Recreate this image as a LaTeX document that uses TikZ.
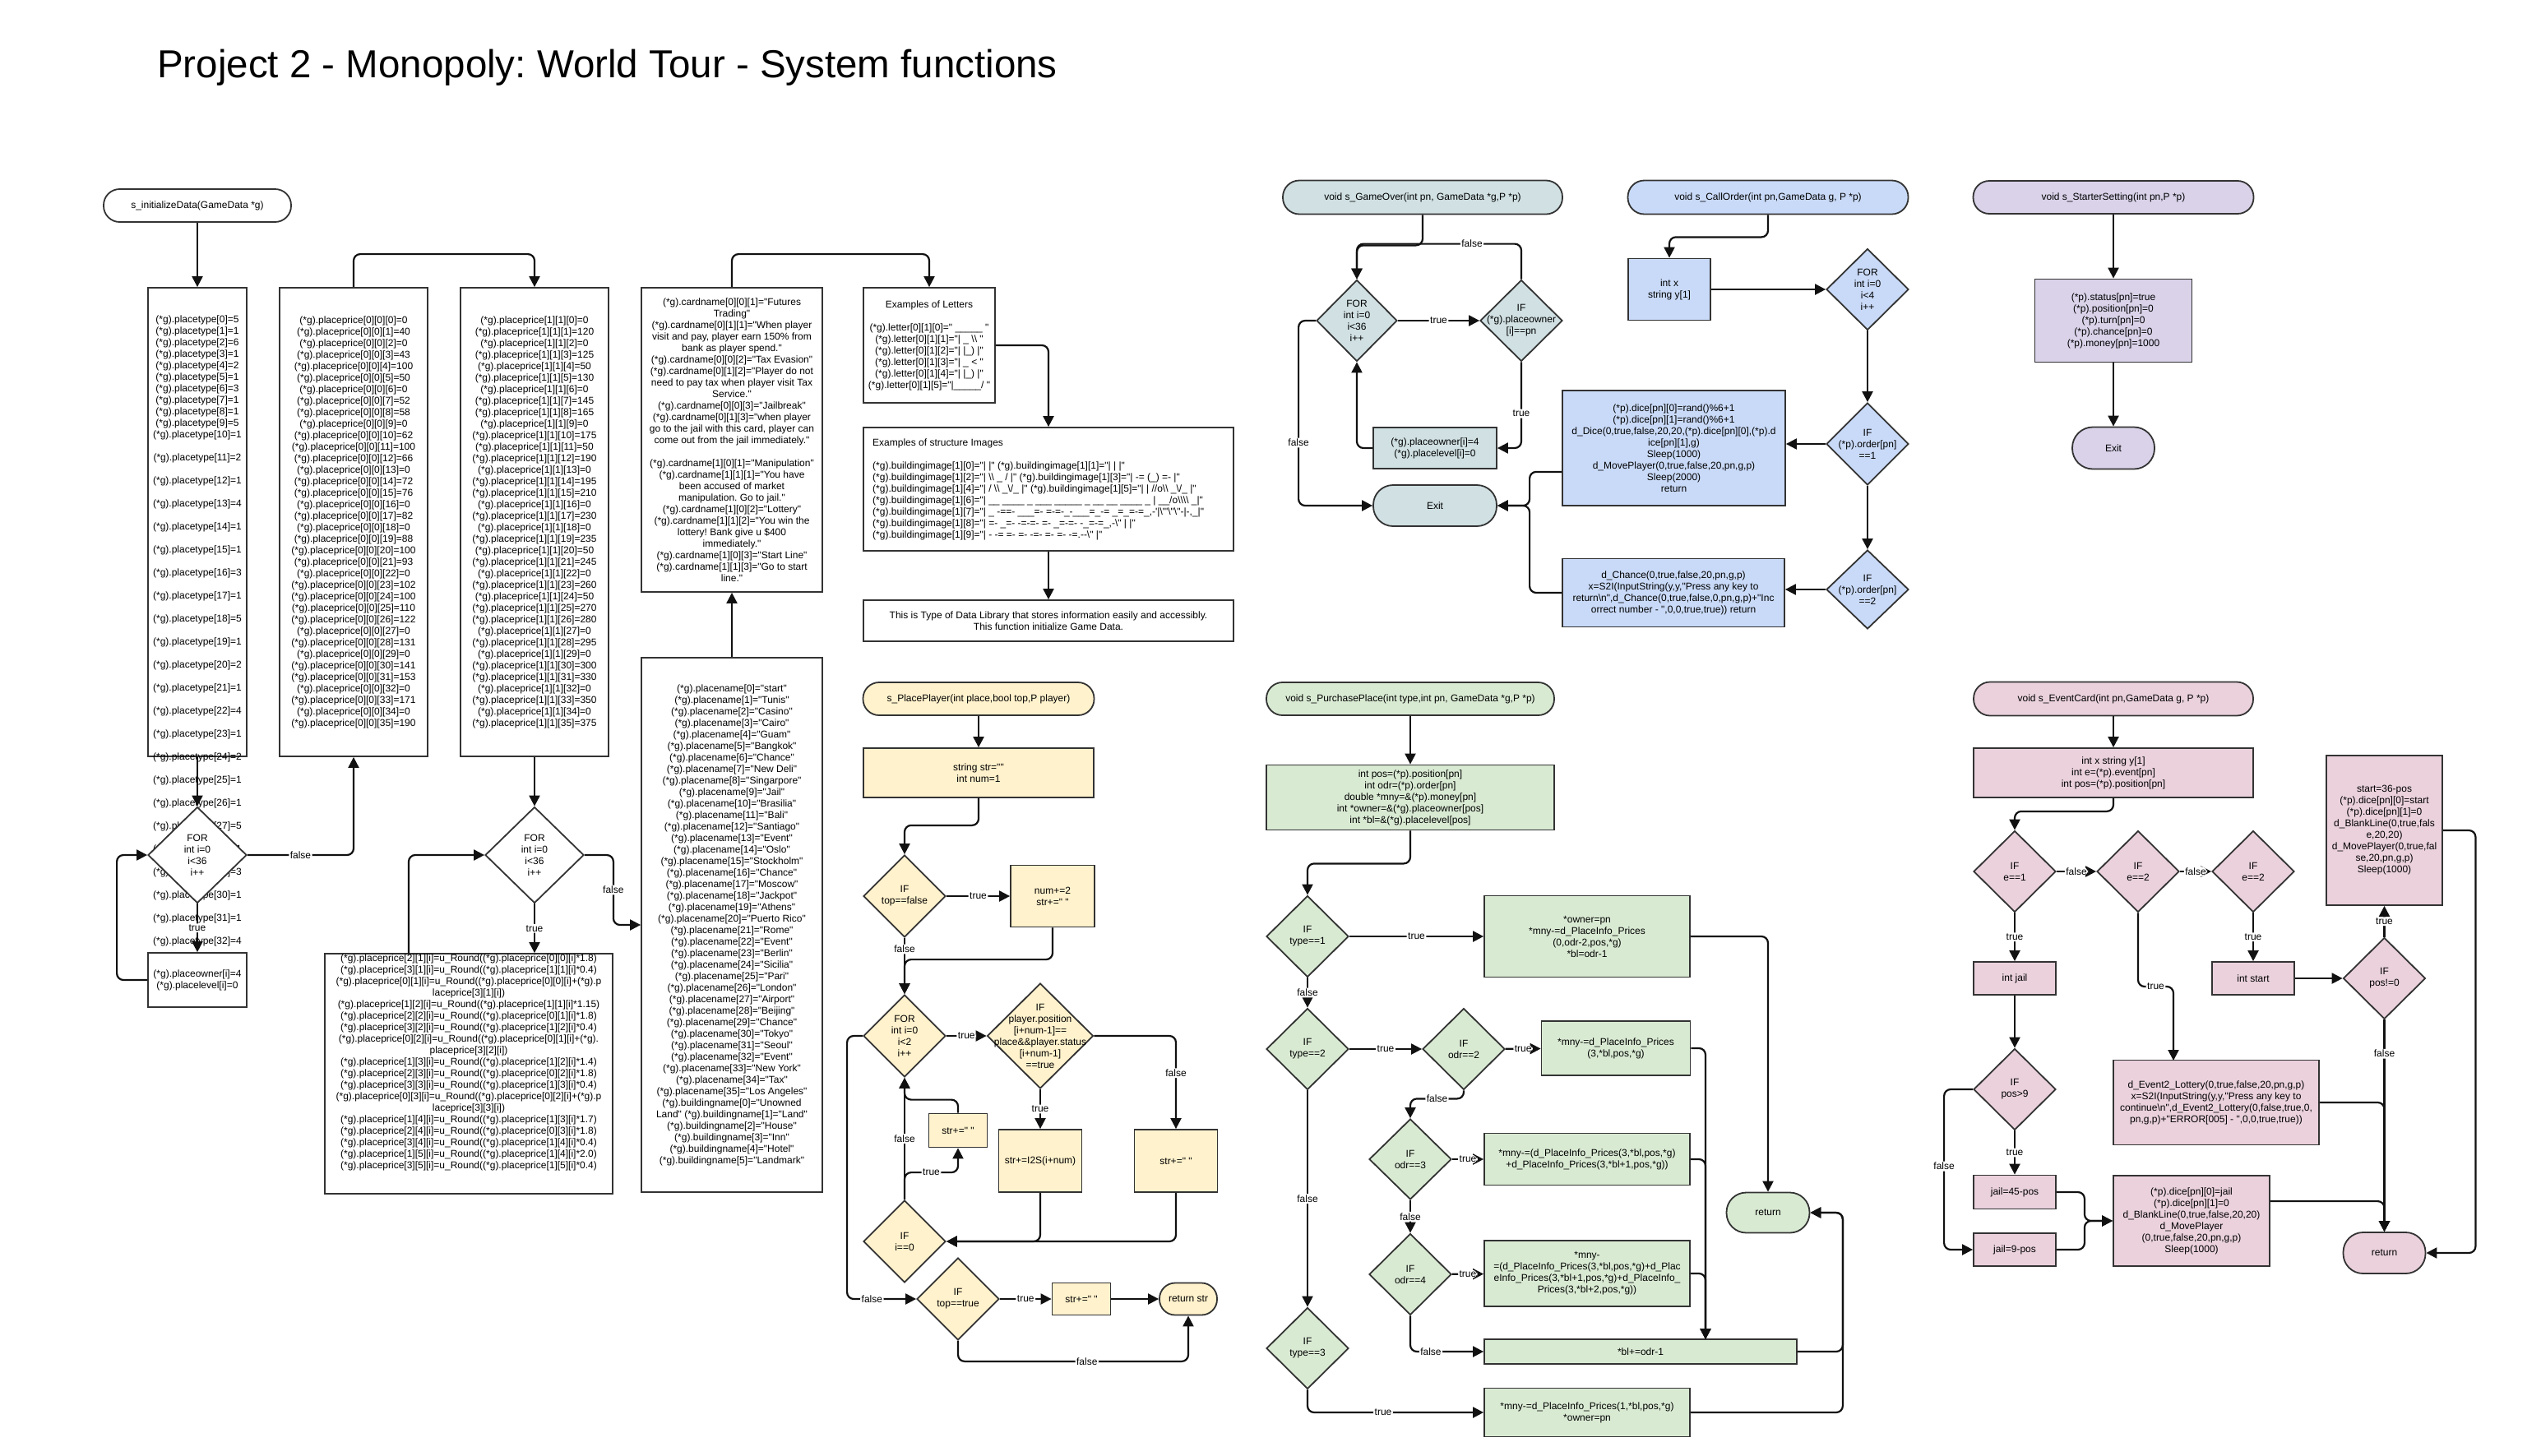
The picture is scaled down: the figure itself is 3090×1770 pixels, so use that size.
\documentclass[tikz,border=0pt]{standalone}
\usepackage{fontspec}
\setmainfont{Liberation Sans}[Ligatures=TeXOff]
\usetikzlibrary{shapes.geometric,shapes.misc,arrows.meta,calc}
\definecolor{bord}{HTML}{333333}
\definecolor{lnc}{HTML}{111111}
\definecolor{cyg}{HTML}{D0E0E3}
\definecolor{blu}{HTML}{C9DAF8}
\definecolor{pur}{HTML}{D9D2E9}
\definecolor{yel}{HTML}{FFF2CC}
\definecolor{grn}{HTML}{D9EAD3}
\definecolor{pnk}{HTML}{EAD1DC}
\newcommand\fs{\fontsize{12}{14}\selectfont}
\newcommand\bsl{\textbackslash}
\frenchspacing
\begin{document}
\begin{tikzpicture}[x=1pt,y=-1pt,
  bx/.style={draw=bord, line width=1.8pt, inner sep=1pt, align=center, font=\fs},
  term/.style={bx, rectangle, rounded corners=#1},
  proc/.style={bx, rectangle},
  dia/.style={bx, diamond, inner sep=0pt},
  txt/.style={inner sep=0pt, align=center, font=\fs},
  arr/.style={draw=lnc, line width=2.2pt, rounded corners=8pt, -{Triangle[length=13pt,width=13pt]}},
  lab/.style={fill=white, inner sep=1.5pt, font=\fs}]
\fill[white] (0,0) rectangle (3090,1770);
\useasboundingbox (0,0) rectangle (3090,1770);
\node[anchor=west, inner sep=0pt, font=\fontsize{47.5}{56}\selectfont] (title) at (191,82) {Project 2 - Monopoly: World Tour - System functions};

% ================= Section 1 : s_initializeData =================
\node[term=19.5pt, fill=white, minimum width=228pt, minimum height=40pt] (t1) at (240,250) {s\_initializeData(GameData *g)};
\node[proc, fill=white, minimum width=120pt, minimum height=570pt] (b1) at (240,635) {};
\node[txt] (b1t) at (240,767) {(*g).placetype[0]=5\\(*g).placetype[1]=1\\(*g).placetype[2]=6\\(*g).placetype[3]=1\\(*g).placetype[4]=2\\(*g).placetype[5]=1\\(*g).placetype[6]=3\\(*g).placetype[7]=1\\(*g).placetype[8]=1\\(*g).placetype[9]=5\\(*g).placetype[10]=1\\[14pt](*g).placetype[11]=2\\[14pt](*g).placetype[12]=1\\[14pt](*g).placetype[13]=4\\[14pt](*g).placetype[14]=1\\[14pt](*g).placetype[15]=1\\[14pt](*g).placetype[16]=3\\[14pt](*g).placetype[17]=1\\[14pt](*g).placetype[18]=5\\[14pt](*g).placetype[19]=1\\[14pt](*g).placetype[20]=2\\[14pt](*g).placetype[21]=1\\[14pt](*g).placetype[22]=4\\[14pt](*g).placetype[23]=1\\[14pt](*g).placetype[24]=2\\[14pt](*g).placetype[25]=1\\[14pt](*g).placetype[26]=1\\[14pt](*g).placetype[27]=5\\[14pt](*g).placetype[28]=1\\[14pt](*g).placetype[29]=3\\[14pt](*g).placetype[30]=1\\[14pt](*g).placetype[31]=1\\[14pt](*g).placetype[32]=4};
\node[proc, fill=white, minimum width=180pt, minimum height=570pt] (b2) at (430,635) {(*g).placeprice[0][0][0]=0\\(*g).placeprice[0][0][1]=40\\(*g).placeprice[0][0][2]=0\\(*g).placeprice[0][0][3]=43\\(*g).placeprice[0][0][4]=100\\(*g).placeprice[0][0][5]=50\\(*g).placeprice[0][0][6]=0\\(*g).placeprice[0][0][7]=52\\(*g).placeprice[0][0][8]=58\\(*g).placeprice[0][0][9]=0\\(*g).placeprice[0][0][10]=62\\(*g).placeprice[0][0][11]=100\\(*g).placeprice[0][0][12]=66\\(*g).placeprice[0][0][13]=0\\(*g).placeprice[0][0][14]=72\\(*g).placeprice[0][0][15]=76\\(*g).placeprice[0][0][16]=0\\(*g).placeprice[0][0][17]=82\\(*g).placeprice[0][0][18]=0\\(*g).placeprice[0][0][19]=88\\(*g).placeprice[0][0][20]=100\\(*g).placeprice[0][0][21]=93\\(*g).placeprice[0][0][22]=0\\(*g).placeprice[0][0][23]=102\\(*g).placeprice[0][0][24]=100\\(*g).placeprice[0][0][25]=110\\(*g).placeprice[0][0][26]=122\\(*g).placeprice[0][0][27]=0\\(*g).placeprice[0][0][28]=131\\(*g).placeprice[0][0][29]=0\\(*g).placeprice[0][0][30]=141\\(*g).placeprice[0][0][31]=153\\(*g).placeprice[0][0][32]=0\\(*g).placeprice[0][0][33]=171\\(*g).placeprice[0][0][34]=0\\(*g).placeprice[0][0][35]=190};
\node[proc, fill=white, minimum width=180pt, minimum height=570pt] (b3) at (650,635) {(*g).placeprice[1][1][0]=0\\(*g).placeprice[1][1][1]=120\\(*g).placeprice[1][1][2]=0\\(*g).placeprice[1][1][3]=125\\(*g).placeprice[1][1][4]=50\\(*g).placeprice[1][1][5]=130\\(*g).placeprice[1][1][6]=0\\(*g).placeprice[1][1][7]=145\\(*g).placeprice[1][1][8]=165\\(*g).placeprice[1][1][9]=0\\(*g).placeprice[1][1][10]=175\\(*g).placeprice[1][1][11]=50\\(*g).placeprice[1][1][12]=190\\(*g).placeprice[1][1][13]=0\\(*g).placeprice[1][1][14]=195\\(*g).placeprice[1][1][15]=210\\(*g).placeprice[1][1][16]=0\\(*g).placeprice[1][1][17]=230\\(*g).placeprice[1][1][18]=0\\(*g).placeprice[1][1][19]=235\\(*g).placeprice[1][1][20]=50\\(*g).placeprice[1][1][21]=245\\(*g).placeprice[1][1][22]=0\\(*g).placeprice[1][1][23]=260\\(*g).placeprice[1][1][24]=50\\(*g).placeprice[1][1][25]=270\\(*g).placeprice[1][1][26]=280\\(*g).placeprice[1][1][27]=0\\(*g).placeprice[1][1][28]=295\\(*g).placeprice[1][1][29]=0\\(*g).placeprice[1][1][30]=300\\(*g).placeprice[1][1][31]=330\\(*g).placeprice[1][1][32]=0\\(*g).placeprice[1][1][33]=350\\(*g).placeprice[1][1][34]=0\\(*g).placeprice[1][1][35]=375};
\node[dia, fill=white, minimum width=120pt, minimum height=117pt] (d1) at (240,1040) {};
\node[txt] (d1t) at (d1) {FOR\\int i=0\\i<36\\i++};
\node[proc, fill=white, minimum width=120pt, minimum height=66pt] (b4) at (240,1192) {(*g).placeowner[i]=4\\(*g).placelevel[i]=0};
\node[dia, fill=white, minimum width=120pt, minimum height=117pt] (d2) at (650,1040) {};
\node[txt] (d2t) at (d2) {FOR\\int i=0\\i<36\\i++};
\node[proc, fill=white, minimum width=350pt, minimum height=292pt] (b5) at (570,1306) {};
\node[txt] (b5t) at (570,1292) {(*g).placeprice[2][1][i]=u\_Round((*g).placeprice[0][0][i]*1.8)\\(*g).placeprice[3][1][i]=u\_Round((*g).placeprice[1][1][i]*0.4)\\(*g).placeprice[0][1][i]=u\_Round((*g).placeprice[0][0][i]+(*g).p\\laceprice[3][1][i])\\(*g).placeprice[1][2][i]=u\_Round((*g).placeprice[1][1][i]*1.15)\\(*g).placeprice[2][2][i]=u\_Round((*g).placeprice[0][1][i]*1.8)\\(*g).placeprice[3][2][i]=u\_Round((*g).placeprice[1][2][i]*0.4)\\(*g).placeprice[0][2][i]=u\_Round((*g).placeprice[0][1][i]+(*g).\\placeprice[3][2][i])\\(*g).placeprice[1][3][i]=u\_Round((*g).placeprice[1][2][i]*1.4)\\(*g).placeprice[2][3][i]=u\_Round((*g).placeprice[0][2][i]*1.8)\\(*g).placeprice[3][3][i]=u\_Round((*g).placeprice[1][3][i]*0.4)\\(*g).placeprice[0][3][i]=u\_Round((*g).placeprice[0][2][i]+(*g).p\\laceprice[3][3][i])\\(*g).placeprice[1][4][i]=u\_Round((*g).placeprice[1][3][i]*1.7)\\(*g).placeprice[2][4][i]=u\_Round((*g).placeprice[0][3][i]*1.8)\\(*g).placeprice[3][4][i]=u\_Round((*g).placeprice[1][4][i]*0.4)\\(*g).placeprice[1][5][i]=u\_Round((*g).placeprice[1][4][i]*2.0)\\(*g).placeprice[3][5][i]=u\_Round((*g).placeprice[1][5][i]*0.4)};
\node[proc, fill=white, minimum width=220pt, minimum height=370pt] (b6) at (890,535) {(*g).cardname[0][0][1]="Futures\\Trading"\\(*g).cardname[0][1][1]="When player\\visit and pay, player earn 150\% from\\bank as player spend."\\(*g).cardname[0][0][2]="Tax Evasion"\\(*g).cardname[0][1][2]="Player do not\\need to pay tax when player visit Tax\\Service."\\(*g).cardname[0][0][3]="Jailbreak"\\(*g).cardname[0][1][3]="when player\\go to the jail with this card, player can\\come out from the jail immediately."\\[14pt](*g).cardname[1][0][1]="Manipulation"\\(*g).cardname[1][1][1]="You have\\been accused of market\\manipulation. Go to jail."\\(*g).cardname[1][0][2]="Lottery"\\(*g).cardname[1][1][2]="You win the\\lottery! Bank give u \$400\\immediately."\\(*g).cardname[1][0][3]="Start Line"\\(*g).cardname[1][1][3]="Go to start\\line."};
\node[proc, fill=white, minimum width=220pt, minimum height=650pt] (b7) at (890,1125) {(*g).placename[0]="start"\\(*g).placename[1]="Tunis"\\(*g).placename[2]="Casino"\\(*g).placename[3]="Cairo"\\(*g).placename[4]="Guam"\\(*g).placename[5]="Bangkok"\\(*g).placename[6]="Chance"\\(*g).placename[7]="New Deli"\\(*g).placename[8]="Singarpore"\\(*g).placename[9]="Jail"\\(*g).placename[10]="Brasilia"\\(*g).placename[11]="Bali"\\(*g).placename[12]="Santiago"\\(*g).placename[13]="Event"\\(*g).placename[14]="Oslo"\\(*g).placename[15]="Stockholm"\\(*g).placename[16]="Chance"\\(*g).placename[17]="Moscow"\\(*g).placename[18]="Jackpot"\\(*g).placename[19]="Athens"\\(*g).placename[20]="Puerto Rico"\\(*g).placename[21]="Rome"\\(*g).placename[22]="Event"\\(*g).placename[23]="Berlin"\\(*g).placename[24]="Sicilia"\\(*g).placename[25]="Pari"\\(*g).placename[26]="London"\\(*g).placename[27]="Airport"\\(*g).placename[28]="Beijing"\\(*g).placename[29]="Chance"\\(*g).placename[30]="Tokyo"\\(*g).placename[31]="Seoul"\\(*g).placename[32]="Event"\\(*g).placename[33]="New York"\\(*g).placename[34]="Tax"\\(*g).placename[35]="Los Angeles"\\(*g).buildingname[0]="Unowned\\Land" (*g).buildingname[1]="Land"\\(*g).buildingname[2]="House"\\(*g).buildingname[3]="Inn"\\(*g).buildingname[4]="Hotel"\\(*g).buildingname[5]="Landmark"};
\node[proc, fill=white, minimum width=160pt, minimum height=140pt] (b8) at (1130,420) {Examples of Letters\\[14pt](*g).letter[0][1][0]=" \_\_\_\_\_ "\\(*g).letter[0][1][1]="| \_ \bsl\bsl{} "\\(*g).letter[0][1][2]="| |\_) |"\\(*g).letter[0][1][3]="| \_ < "\\(*g).letter[0][1][4]="| |\_) |"\\(*g).letter[0][1][5]="|\_\_\_\_\_/ "};
\node[proc, fill=white, minimum width=450pt, minimum height=150pt] (b9) at (1275,595) {};
\node[txt, align=left, anchor=west] (b9t) at (1061,595) {Examples of structure Images\\[14pt](*g).buildingimage[1][0]="| |" (*g).buildingimage[1][1]="| | |"\\(*g).buildingimage[1][2]="| \bsl\bsl{} \_ / |" (*g).buildingimage[1][3]="| -= (\_) =- |"\\(*g).buildingimage[1][4]="| / \bsl\bsl{} \_\bsl/\_ |" (*g).buildingimage[1][5]="| | //o\bsl\bsl{} \_\bsl/\_ |"\\(*g).buildingimage[1][6]="| \_\_ \_\_\_\_ \_ \_\_\_ \_\_\_\_\_ \_ \_\_ \_\_ \_\_\_\_ \_ | \_\_/o\bsl\bsl\bsl\bsl{} \_|"\\(*g).buildingimage[1][7]="| \_ -==- \_\_\_=- =-=-\_-\_\_\_=\_-= \_=\_=-=\_,-'|\bsl"'\bsl"\bsl"-|-,\_|"\\(*g).buildingimage[1][8]="| =- \_=- -=-=- =- \_=-=- -\_=-=\_,-\bsl" | |"\\(*g).buildingimage[1][9]="| - -= =- =- -=- =- =- -=.--\bsl" |"};
\node[proc, fill=white, minimum width=450pt, minimum height=50pt] (b10) at (1275,755) {This is Type of Data Library that stores information easily and accessibly.\\This function initialize Game Data.};

\draw[arr] (t1) -- (b1);
\draw[arr] (b1) -- (d1);
\draw[arr] (d1.east) -- node[lab]{false} (d1.east -| b2.south) -- (b2.south);
\draw[arr] (d1) -- node[lab]{true} (b4);
\draw[arr] (b4.west) -- ++(-37,0) |- (d1.west);
\draw[arr] (b2.north) -- ++(0,-40) -| (b3.north);
\draw[arr] (b3) -- (d2);
\draw[arr] (d2.south) -- node[lab]{true} (d2.south |- b5.north);
\coordinate (b5a) at (497,1160);
\draw[arr] (b5a) |- (d2.west);
\draw[arr] (d2.east) -- ++(35,0) -- node[lab]{false} ++(0,85) -- (b7.west);
\draw[arr] (b7) -- (b6);
\draw[arr] (b6.north) -- ++(0,-40) -| (b8.north);
\draw[arr] (b8.east) -| (b9.north);
\draw[arr] (b9) -- (b10);

% ================= s_PlacePlayer =================
\node[term=19.5pt, fill=yel, minimum width=281pt, minimum height=40pt] (p0) at (1190,850) {s\_PlacePlayer(int place,bool top,P player)};
\node[proc, fill=yel, minimum width=280pt, minimum height=60pt] (p1) at (1190,940) {string str=""\\int num=1};
\node[dia, fill=yel, minimum width=100pt, minimum height=100pt] (p2) at (1100,1090) {};
\node[txt] (p2t) at (p2) {IF\\top==false};
\node[proc, fill=yel, minimum width=102pt, minimum height=75pt] (p3) at (1280,1090) {num+=2\\str+=" "};
\node[dia, fill=yel, minimum width=100pt, minimum height=100pt] (p4) at (1100,1260) {};
\node[txt] (p4t) at (p4) {FOR\\int i=0\\i<2\\i++};
\node[dia, fill=yel, minimum width=129pt, minimum height=128pt] (p5) at (1265,1260) {};
\node[txt] (p5t) at (p5) {IF\\player.position\\{}[i+num-1]==\\place\&\&player.status\\{}[i+num-1]\\==true};
\node[proc, fill=yel, minimum width=101pt, minimum height=76pt] (p6) at (1265,1412) {str+=I2S(i+num)};
\node[proc, fill=yel, minimum width=101pt, minimum height=76pt] (p7) at (1430,1412) {str+=" "};
\node[dia, fill=yel, minimum width=100pt, minimum height=100pt] (p8) at (1100,1510) {};
\node[txt] (p8t) at (p8) {IF\\i==0};
\node[proc, fill=yel, minimum width=71pt, minimum height=41pt] (p9) at (1165,1375) {str+=" "};
\node[dia, fill=yel, minimum width=100pt, minimum height=100pt] (p10) at (1165,1580) {};
\node[txt] (p10t) at (p10) {IF\\top==true};
\node[proc, fill=yel, minimum width=71pt, minimum height=39pt] (p11) at (1315,1580) {str+=" "};
\node[term=19pt, fill=yel, minimum width=70pt, minimum height=39pt] (p12) at (1445,1580) {return str};

\draw[arr] (p0) -- (p1);
\draw[arr] (p1.south) -- ++(0,33) -| (p2.north);
\draw[arr] (p2) -- node[lab]{true} (p3);
\draw[arr] (p2) -- node[lab, pos=0.2]{false} (p4);
\draw[arr] (p3.south) |- ($(p4.north)+(0,-42)$) -- (p4.north);
\draw[arr] (p4) -- node[lab]{true} (p5);
\draw[arr] (p5) -- node[lab]{true} (p6);
\draw[arr] (p5.east) -| node[lab, pos=0.7]{false} (p7.north);
\draw[arr] (p6.south) |- (p8.east);
\draw[arr] (p7.south) |- (p8.east);
\draw[arr] (p8) -- node[lab]{false} (p4);
\draw[arr] (p8.north) -- ++(0,-33) -- node[lab]{true} ++(65,0) -- (p9.south);
\draw[arr] (p9.north) -- ++(0,-16) -| (p4.south);
\draw[arr] (p4.west) -- ++(-19,0) |- node[lab, pos=0.68]{false} (p10.west);
\draw[arr] (p10) -- node[lab]{true} (p11);
\draw[arr] (p11) -- (p12);
\draw[arr] (p10.south) -- ++(0,25) -| node[lab, pos=0.28]{false} (p12.south);

% ================= s_GameOver =================
\node[term=20pt, fill=cyg, minimum width=340pt, minimum height=41pt] (g0) at (1730,240) {void s\_GameOver(int pn, GameData *g,P *p)};
\node[dia, fill=cyg, minimum width=98pt, minimum height=99pt] (g1) at (1650,390) {};
\node[txt] (g1t) at (g1) {FOR\\int i=0\\i<36\\i++};
\node[dia, fill=cyg, minimum width=100pt, minimum height=99pt] (g2) at (1850,390) {};
\node[txt] (g2t) at (g2) {IF\\(*g).placeowner\\{}[i]==pn};
\node[proc, fill=cyg, minimum width=150pt, minimum height=50pt] (g3) at (1745,545) {(*g).placeowner[i]=4\\(*g).placelevel[i]=0};
\node[term=24pt, fill=cyg, minimum width=150pt, minimum height=50pt] (g4) at (1745,615) {Exit};

\draw[arr] (g0.south) -- ++(0,37) -| (g1.north);
\draw[arr] (g2.north) |- node[lab, pos=0.65]{false} ($(g1.north)+(0,-43)$) -- (g1.north);
\draw[arr] (g1) -- node[lab]{true} (g2);
\draw[arr] (g2.south) |- node[lab, pos=0.3]{true} (g3.east);
\draw[arr] (g3.west) -| (g1.south);
\draw[arr] (g1.west) -- ++(-21,0) |- node[lab, pos=0.33]{false} (g4.west);

% ================= s_CallOrder =================
\node[term=20pt, fill=blu, minimum width=341pt, minimum height=41pt] (c0) at (2150,240) {void s\_CallOrder(int pn,GameData g, P *p)};
\node[proc, fill=blu, minimum width=100pt, minimum height=75pt] (c1) at (2030,352) {int x\\string y[1]};
\node[dia, fill=blu, minimum width=100pt, minimum height=99pt] (c2) at (2271,352) {};
\node[txt] (c2t) at (c2) {FOR\\int i=0\\i<4\\i++};
\node[dia, fill=blu, minimum width=100pt, minimum height=100pt] (c3) at (2271,540) {};
\node[txt] (c3t) at (c3) {IF\\(*p).order[pn]\\==1};
\node[proc, fill=blu, minimum width=271pt, minimum height=140pt] (c4) at (2035.5,545) {(*p).dice[pn][0]=rand()\%6+1\\(*p).dice[pn][1]=rand()\%6+1\\d\_Dice(0,true,false,20,20,(*p).dice[pn][0],(*p).d\\ice[pn][1],g)\\Sleep(1000)\\d\_MovePlayer(0,true,false,20,pn,g,p)\\Sleep(2000)\\return};
\node[dia, fill=blu, minimum width=100pt, minimum height=96pt] (c5) at (2271,717) {};
\node[txt] (c5t) at (c5) {IF\\(*p).order[pn]\\==2};
\node[proc, fill=blu, minimum width=270pt, minimum height=83pt] (c6) at (2035,721) {d\_Chance(0,true,false,20,pn,g,p)\\x=S2I(InputString(y,y,"Press any key to\\return\bsl n",d\_Chance(0,true,false,0,pn,g,p)+"Inc\\orrect number - ",0,0,true,true)) return};

\draw[arr] (c0.south) -- ++(0,27) -| (c1.north);
\draw[arr] (c1) -- (c2);
\draw[arr] (c2) -- (c3);
\draw[arr] (c3.west) -- (c3.west -| c4.east);
\draw[arr] (c3) -- (c5);
\draw[arr] (c5.west) -- (c5.west -| c6.east);
\coordinate (c4o) at ($(c4.south west)+(0,-42)$);
\draw[arr] (c4o) -- ++(-39,0) |- (g4.east);
\draw[arr] (c6.west) -- ++(-39,0) |- (g4.east);

% ================= s_StarterSetting =================
\node[term=19.5pt, fill=pur, minimum width=341pt, minimum height=40pt] (s0) at (2570,240) {void s\_StarterSetting(int pn,P *p)};
\node[proc, fill=pur, minimum width=191pt, minimum height=101pt] (s1) at (2570,390) {(*p).status[pn]=true\\(*p).position[pn]=0\\(*p).turn[pn]=0\\(*p).chance[pn]=0\\(*p).money[pn]=1000};
\node[term=25pt, fill=pur, minimum width=100pt, minimum height=51pt] (s2) at (2570,545) {Exit};
\draw[arr] (s0) -- (s1);
\draw[arr] (s1) -- (s2);

% ================= s_PurchasePlace =================
\node[term=19.5pt, fill=grn, minimum width=350pt, minimum height=40pt] (u0) at (1715,850) {void s\_PurchasePlace(int type,int pn, GameData *g,P *p)};
\node[proc, fill=grn, minimum width=350pt, minimum height=79pt] (u1) at (1715,970) {int pos=(*p).position[pn]\\int odr=(*p).order[pn]\\double *mny=\&(*p).money[pn]\\int *owner=\&(*g).placeowner[pos]\\int *bl=\&(*g).placelevel[pos]};
\node[dia, fill=grn, minimum width=100pt, minimum height=99pt] (u2) at (1590,1139) {};
\node[txt] (u2t) at (u2) {IF\\type==1};
\node[proc, fill=grn, minimum width=250pt, minimum height=99pt] (u3) at (1930,1139) {*owner=pn\\{}*mny-=d\_PlaceInfo\_Prices\\(0,odr-2,pos,*g)\\{}*bl=odr-1};
\node[term=24pt, fill=grn, minimum width=101pt, minimum height=49pt] (u4) at (2150,1475) {return};
\node[dia, fill=grn, minimum width=100pt, minimum height=99pt] (u5) at (1590,1276) {};
\node[txt] (u5t) at (u5) {IF\\type==2};
\node[dia, fill=grn, minimum width=100pt, minimum height=99pt] (u6) at (1780,1276) {};
\node[txt] (u6t) at (u6) {IF\\odr==2};
\node[proc, fill=grn, minimum width=181pt, minimum height=66pt] (u7) at (1965,1275) {*mny-=d\_PlaceInfo\_Prices\\(3,*bl,pos,*g)};
\node[dia, fill=grn, minimum width=100pt, minimum height=98pt] (u8) at (1715,1410) {};
\node[txt] (u8t) at (u8) {IF\\odr==3};
\node[proc, fill=grn, minimum width=250pt, minimum height=63pt] (u9) at (1930,1410) {*mny-=(d\_PlaceInfo\_Prices(3,*bl,pos,*g)\\+d\_PlaceInfo\_Prices(3,*bl+1,pos,*g))};
\node[dia, fill=grn, minimum width=100pt, minimum height=99pt] (u10) at (1715,1550) {};
\node[txt] (u10t) at (u10) {IF\\odr==4};
\node[proc, fill=grn, minimum width=250pt, minimum height=80pt] (u11) at (1930,1549) {*mny-\\=(d\_PlaceInfo\_Prices(3,*bl,pos,*g)+d\_Plac\\eInfo\_Prices(3,*bl+1,pos,*g)+d\_PlaceInfo\_\\Prices(3,*bl+2,pos,*g))};
\node[proc, fill=grn, minimum width=380pt, minimum height=30pt] (u12) at (1995,1644) {*bl+=odr-1};
\node[dia, fill=grn, minimum width=100pt, minimum height=99pt] (u13) at (1590,1640) {};
\node[txt] (u13t) at (u13) {IF\\type==3};
\node[proc, fill=grn, minimum width=250pt, minimum height=59pt] (u14) at (1930,1718) {*mny-=d\_PlaceInfo\_Prices(1,*bl,pos,*g)\\{}*owner=pn};

\draw[arr] (u0) -- (u1);
\draw[arr] (u1.south) -- ++(0,40) -| (u2.north);
\draw[arr] (u2) -- node[lab]{true} (u3);
\draw[arr] (u3.east) -| (u4.north);
\draw[arr] (u2) -- node[lab]{false} (u5);
\draw[arr] (u5) -- node[lab]{true} (u6);
\draw[arr] (u6) -- node[lab]{true} (u7);
\draw[arr] (u6.south) -- ++(0,10) -| node[lab, pos=0.25]{false} (u8.north);
\draw[arr] (u8) -- node[lab]{true} (u9);
\draw[arr] (u8) -- node[lab]{false} (u10);
\draw[arr] (u10) -- node[lab]{true} (u11);
\draw[arr] (u10.south) |- node[lab, pos=0.64]{false} (u12.west);
\coordinate (u12in) at (2074,1629);
\draw[arr] (u7.east) -| (u12in);
\draw[arr] (u9.east) -| (u12in);
\draw[arr] (u11.east) -| (u12in);
\draw[arr] (u12.east) -- ++(55,0) |- (u4.east);
\draw[arr] (u5) -- node[lab]{false} (u13);
\draw[arr] (u13.south) |- node[lab, pos=0.715]{true} (u14.west);
\draw[arr] (u14.east) -- ++(185,0) |- (u4.east);

% ================= s_EventCard =================
\node[term=20pt, fill=pnk, minimum width=340pt, minimum height=41pt] (e0) at (2570,850) {void s\_EventCard(int pn,GameData g, P *p)};
\node[proc, fill=pnk, minimum width=340pt, minimum height=60pt] (e1) at (2570,940) {int x string y[1]\\int e=(*p).event[pn]\\int pos=(*p).position[pn]};
\node[dia, fill=pnk, minimum width=100pt, minimum height=99pt] (e2) at (2450,1060) {};
\node[txt] (e2t) at (e2) {IF\\e==1};
\node[dia, fill=pnk, minimum width=100pt, minimum height=99pt] (e3) at (2600,1060) {};
\node[txt] (e3t) at (e3) {IF\\e==2};
\node[dia, fill=pnk, minimum width=100pt, minimum height=99pt] (e4) at (2740,1060) {};
\node[txt] (e4t) at (e4) {IF\\e==2};
\node[proc, fill=pnk, minimum width=100pt, minimum height=40pt] (e5) at (2450,1190) {int jail};
\node[dia, fill=pnk, minimum width=100pt, minimum height=99pt] (e6) at (2450,1325) {};
\node[txt] (e6t) at (e6) {IF\\pos>9};
\node[proc, fill=pnk, minimum width=100pt, minimum height=41pt] (e7) at (2450,1450) {jail=45-pos};
\node[proc, fill=pnk, minimum width=100pt, minimum height=40pt] (e8) at (2450,1520) {jail=9-pos};
\node[proc, fill=pnk, minimum width=190pt, minimum height=110pt] (e9) at (2665,1485) {(*p).dice[pn][0]=jail\\(*p).dice[pn][1]=0\\d\_BlankLine(0,true,false,20,20)\\d\_MovePlayer\\(0,true,false,20,pn,g,p)\\Sleep(1000)};
\node[proc, fill=pnk, minimum width=250pt, minimum height=103pt] (e10) at (2695,1341) {d\_Event2\_Lottery(0,true,false,20,pn,g,p)\\x=S2I(InputString(y,y,"Press any key to\\continue\bsl n",d\_Event2\_Lottery(0,false,true,0,\\pn,g,p)+"ERROR[005] - ",0,0,true,true))};
\node[proc, fill=pnk, minimum width=100pt, minimum height=40pt] (e11) at (2740,1190) {int start};
\node[dia, fill=pnk, minimum width=100pt, minimum height=99pt] (e12) at (2899.5,1190) {};
\node[txt] (e12t) at (e12) {IF\\pos!=0};
\node[proc, fill=pnk, minimum width=141pt, minimum height=182pt] (e13) at (2899.5,1010) {start=36-pos\\(*p).dice[pn][0]=start\\(*p).dice[pn][1]=0\\d\_BlankLine(0,true,fals\\e,20,20)\\d\_MovePlayer(0,true,fal\\se,20,pn,g,p)\\Sleep(1000)};
\node[term=24pt, fill=pnk, minimum width=100pt, minimum height=50pt] (e14) at (2899.5,1524) {return};

\draw[arr] (e0) -- (e1);
\draw[arr] (e1.south) -- ++(0,16) -| (e2.north);
\draw[arr] (e2) -- node[lab]{false} (e3);
\draw[arr] (e3) -- node[lab]{false} (e4);
\draw[arr] (e2) -- node[lab]{true} (e5);
\draw[arr] (e5) -- (e6);
\draw[arr] (e6) -- node[lab]{true} (e7);
\draw[arr] (e6.west) -- ++(-35,0) |- node[lab, pos=0.24]{false} (e8.west);
\draw[arr] (e7.east) -- ++(34,0) |- (e9.west);
\draw[arr] (e8.east) -- ++(34,0) |- (e9.west);
\coordinate (e10in) at (2643,1290);
\draw[arr] (e3.south) |- node[lab, pos=0.75]{true} ($(e10in)+(0,-90)$) -- (e10in);
\coordinate (e9o) at ($(e9.north east)+(0,32)$);
\draw[arr] (e9o) -| (e14.north);
\draw[arr] (e10.east) -| (e14.north);
\draw[arr] (e4) -- node[lab]{true} (e11);
\draw[arr] (e11) -- (e12);
\draw[arr] (e12) -- node[lab]{true} (e13);
\draw[arr] (e12) -- node[lab, pos=0.16]{false} (e14);
\draw[arr] (e13.east) -- ++(39.5,0) |- (e14.east);
\end{tikzpicture}
\end{document}
